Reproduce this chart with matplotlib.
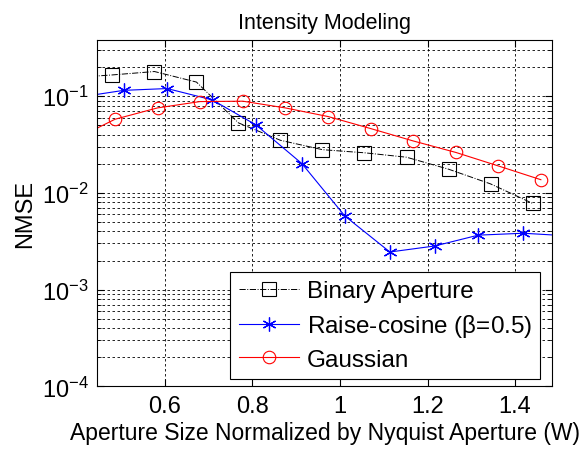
import matplotlib
matplotlib.use("Agg")
import matplotlib.pyplot as plt
import numpy as np

plt.rcParams['font.family'] = ['Liberation Sans', 'DejaVu Sans']

# data (points outside the x range only continue the lines to the edge)
binary_x = [0.384, 0.48, 0.576, 0.672, 0.768, 0.864, 0.96, 1.056, 1.152, 1.248, 1.344, 1.44]
binary_y = [0.155, 0.166, 0.18, 0.14, 0.053, 0.035, 0.028, 0.026, 0.0234, 0.0176, 0.0124, 0.0078]

raised_x = [0.405, 0.506, 0.605, 0.708, 0.808, 0.913, 1.011, 1.114, 1.217, 1.316, 1.419, 1.52]
raised_y = [0.098, 0.115, 0.12, 0.0916, 0.0505, 0.0201, 0.00578, 0.00245, 0.00283, 0.00366, 0.00383, 0.0036]

gauss_x = [0.389, 0.486, 0.583, 0.68, 0.778, 0.875, 0.973, 1.07, 1.167, 1.265, 1.362, 1.459]
gauss_y = [0.035, 0.0578, 0.0757, 0.088, 0.0888, 0.0757, 0.0616, 0.0463, 0.0345, 0.0262, 0.019, 0.0137]

xticks = [0.6, 0.8, 1.0, 1.2, 1.4]
xtick_labels = ['0.6', '0.8', '1', '1.2', '1.4']
yticks = [1e-4, 1e-3, 1e-2, 1e-1]
ytick_labels = [r'$\mathregular{10^{-4}}$', r'$\mathregular{10^{-3}}$',
                r'$\mathregular{10^{-2}}$', r'$\mathregular{10^{-1}}$']

fig = plt.figure(figsize=(5.85, 4.52), dpi=100)
ax = fig.add_axes([0.166, 0.143, 0.778, 0.766])

ax.plot(binary_x, binary_y, color='black', linestyle='-.', linewidth=0.7,
        marker='s', markersize=9.5, markerfacecolor='none', markeredgewidth=0.8,
        label='Binary Aperture')
ax.plot(raised_x, raised_y, color='blue', linestyle='-', linewidth=0.8,
        marker=(6, 2, 0), markersize=10, markerfacecolor='none', markeredgewidth=0.9,
        label=r'Raise-cosine ($\mathregular{\beta}$=0.5)')
ax.plot(gauss_x, gauss_y, color='red', linestyle='-', linewidth=0.8,
        marker='o', markersize=9, markerfacecolor='none', markeredgewidth=0.8,
        label='Gaussian')

ax.set_yscale('log')
ax.set_xlim(0.445, 1.485)
ax.set_ylim(1e-4, 0.38)

ax.set_xticks(xticks)
ax.set_xticklabels(xtick_labels)
ax.set_yticks(yticks)
ax.set_yticklabels(ytick_labels)
ax.tick_params(which='both', direction='in', top=True, right=True, labelsize=17)
ax.tick_params(which='major', length=5, pad=6)
ax.tick_params(which='minor', length=3)
ax.yaxis.set_minor_formatter(plt.NullFormatter())

grid_style = dict(color='black', linestyle=(0, (3, 3)), linewidth=0.6)
ax.grid(True, which='major', axis='both', **grid_style)
ax.grid(True, which='minor', axis='y', **grid_style)
ax.set_axisbelow(True)

ax.set_title('Intensity Modeling', fontsize=15.5, pad=9)
ax.set_xlabel('Aperture Size Normalized by Nyquist Aperture (W)', fontsize=16.5, labelpad=3)
ax.set_ylabel('NMSE', fontsize=17, labelpad=4)

leg = ax.legend(loc='lower right', bbox_to_anchor=(0.974, 0.02), fontsize=17.5,
                frameon=True, fancybox=False, framealpha=1, edgecolor='black',
                handlelength=2.5, handletextpad=0.3, borderaxespad=0,
                labelspacing=0.4, borderpad=0.35)
leg.get_frame().set_linewidth(0.8)

for s in ax.spines.values():
    s.set_linewidth(0.8)

fig.savefig('out.png', dpi=100)
